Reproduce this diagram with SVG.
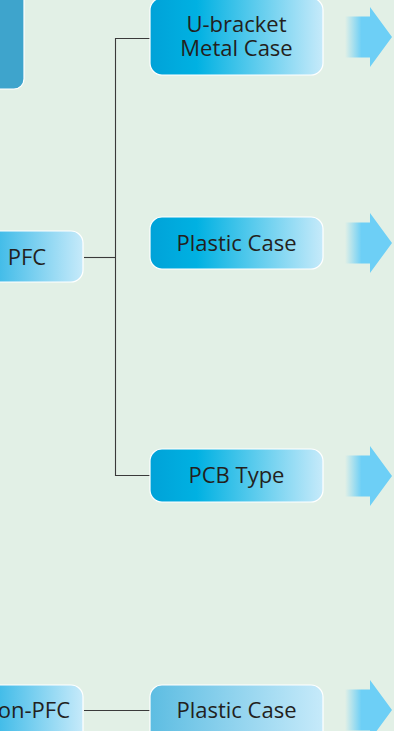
<svg xmlns="http://www.w3.org/2000/svg" width="394" height="731" viewBox="0 0 394 731">
<defs>
<linearGradient id="boxg" x1="0" y1="0" x2="1" y2="0">
<stop offset="0" stop-color="#00a2d8"/>
<stop offset="0.27" stop-color="#00b1e2"/>
<stop offset="1" stop-color="#c6eafa"/>
</linearGradient>
<linearGradient id="boxl" x1="0" y1="0" x2="1" y2="0">
<stop offset="0" stop-color="#5dbde2"/>
<stop offset="1" stop-color="#c6eafa"/>
</linearGradient>
<linearGradient id="boxs" x1="0" y1="0" x2="1" y2="0">
<stop offset="0" stop-color="#00a8dd"/>
<stop offset="0.3" stop-color="#3fbbe8"/>
<stop offset="1" stop-color="#c6eafa"/>
</linearGradient>
<linearGradient id="arrg" gradientUnits="userSpaceOnUse" x1="345" y1="0" x2="392" y2="0">
<stop offset="0" stop-color="#6dcff6" stop-opacity="0"/>
<stop offset="0.35" stop-color="#6dcff6"/>
<stop offset="1" stop-color="#6dcff6"/>
</linearGradient>
<path id="arrow" d="M345,-20.5 H370 V-30 L392,0 L370,30 V20.5 H345 Z"/>
</defs>
<style>
.box{stroke:#ffffff;stroke-width:1.2}
.t{font-family:"Open Sans","DejaVu Sans",sans-serif;font-size:22px;fill:#231f20;text-anchor:middle}
.conn{stroke:#3a3a3a;stroke-width:1.1;fill:none}
.arr{fill:url(#arrg)}
</style>
<rect width="394" height="731" fill="#e2f0e6"/>

<g id="top-left">
<rect x="-20" y="-20" width="44" height="109" rx="10" fill="#3ea4cc" class="box"/>
</g>

<g id="connectors">
<path class="conn" d="M150,38.5 H115.5 V475.5 H150"/>
<path class="conn" d="M84,257.5 H115.5"/>
<path class="conn" d="M84,710.5 H150"/>
</g>

<g id="pfc">
<rect x="-40" y="231" width="123" height="51" rx="12" fill="url(#boxs)" class="box"/>
<text class="t" x="27" y="265">PFC</text>
</g>

<g id="non-pfc">
<rect x="-40" y="685" width="123" height="60" rx="12" fill="url(#boxs)" class="box"/>
<text class="t" x="70" y="718" style="text-anchor:end">Non-PFC</text>
</g>

<g id="u-bracket">
<rect x="150" y="-2" width="173" height="77" rx="12" fill="url(#boxg)" class="box"/>
<text class="t"><tspan x="236.5" y="32">U-bracket</tspan><tspan x="236.5" y="56">Metal Case</tspan></text>
</g>

<g id="plastic-case-1">
<rect x="150" y="217" width="173" height="52" rx="12" fill="url(#boxg)" class="box"/>
<text class="t" x="236.5" y="251">Plastic Case</text>
</g>

<g id="pcb-type">
<rect x="150" y="449" width="173" height="53" rx="12" fill="url(#boxg)" class="box"/>
<text class="t" x="236.5" y="483">PCB Type</text>
</g>

<g id="plastic-case-2">
<rect x="150" y="685" width="173" height="60" rx="12" fill="url(#boxl)" class="box"/>
<text class="t" x="236.5" y="718">Plastic Case</text>
</g>

<g id="arrows">
<use href="#arrow" class="arr" transform="translate(0,37)"/>
<use href="#arrow" class="arr" transform="translate(0,243)"/>
<use href="#arrow" class="arr" transform="translate(0,476)"/>
<use href="#arrow" class="arr" transform="translate(0,710)"/>
</g>
</svg>
